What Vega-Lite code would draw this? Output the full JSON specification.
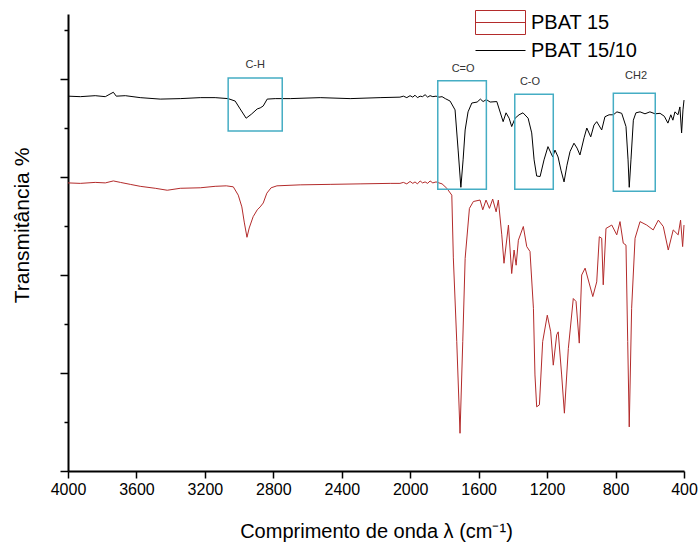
{
  "$schema": "https://vega.github.io/schema/vega-lite/v6.json",
  "autosize": "none",
  "width": 616,
  "height": 457,
  "padding": {"left": 68, "top": 14, "right": 15, "bottom": 71},
  "background": "white",
  "config": {
    "view": {"stroke": null},
    "font": "Liberation Sans",
    "axis": {"grid": false, "domainColor": "black", "domainWidth": 2, "tickColor": "black", "tickWidth": 1.5, "labelColor": "black", "titleColor": "black", "titleFontWeight": "normal", "labelFont": "Liberation Sans", "titleFont": "Liberation Sans"}
  },
  "datasets": {
    "spectra": [
      {"serie": "PBAT 15/10", "wn": 4000, "T": 76.5},
      {"serie": "PBAT 15/10", "wn": 3928, "T": 76.4},
      {"serie": "PBAT 15/10", "wn": 3841, "T": 76.6},
      {"serie": "PBAT 15/10", "wn": 3782, "T": 76.4},
      {"serie": "PBAT 15/10", "wn": 3735, "T": 77.3},
      {"serie": "PBAT 15/10", "wn": 3718, "T": 76.5},
      {"serie": "PBAT 15/10", "wn": 3665, "T": 76.6},
      {"serie": "PBAT 15/10", "wn": 3578, "T": 76.2},
      {"serie": "PBAT 15/10", "wn": 3461, "T": 75.9},
      {"serie": "PBAT 15/10", "wn": 3344, "T": 76.0},
      {"serie": "PBAT 15/10", "wn": 3227, "T": 76.2},
      {"serie": "PBAT 15/10", "wn": 3140, "T": 76.2},
      {"serie": "PBAT 15/10", "wn": 3064, "T": 76.0},
      {"serie": "PBAT 15/10", "wn": 3023, "T": 75.5},
      {"serie": "PBAT 15/10", "wn": 2994, "T": 73.9},
      {"serie": "PBAT 15/10", "wn": 2959, "T": 72.0},
      {"serie": "PBAT 15/10", "wn": 2929, "T": 72.8},
      {"serie": "PBAT 15/10", "wn": 2894, "T": 73.9},
      {"serie": "PBAT 15/10", "wn": 2877, "T": 74.1},
      {"serie": "PBAT 15/10", "wn": 2859, "T": 74.5},
      {"serie": "PBAT 15/10", "wn": 2836, "T": 75.9},
      {"serie": "PBAT 15/10", "wn": 2789, "T": 76.0},
      {"serie": "PBAT 15/10", "wn": 2701, "T": 76.0},
      {"serie": "PBAT 15/10", "wn": 2526, "T": 76.2},
      {"serie": "PBAT 15/10", "wn": 2351, "T": 76.0},
      {"serie": "PBAT 15/10", "wn": 2176, "T": 76.2},
      {"serie": "PBAT 15/10", "wn": 2060, "T": 76.3},
      {"serie": "PBAT 15/10", "wn": 2040, "T": 76.5},
      {"serie": "PBAT 15/10", "wn": 2020, "T": 76.2},
      {"serie": "PBAT 15/10", "wn": 2001, "T": 76.6},
      {"serie": "PBAT 15/10", "wn": 1985, "T": 76.3},
      {"serie": "PBAT 15/10", "wn": 1972, "T": 76.7},
      {"serie": "PBAT 15/10", "wn": 1958, "T": 76.2},
      {"serie": "PBAT 15/10", "wn": 1942, "T": 76.5},
      {"serie": "PBAT 15/10", "wn": 1928, "T": 76.4},
      {"serie": "PBAT 15/10", "wn": 1913, "T": 76.8},
      {"serie": "PBAT 15/10", "wn": 1898, "T": 76.3},
      {"serie": "PBAT 15/10", "wn": 1884, "T": 76.6},
      {"serie": "PBAT 15/10", "wn": 1868, "T": 76.4},
      {"serie": "PBAT 15/10", "wn": 1849, "T": 76.5},
      {"serie": "PBAT 15/10", "wn": 1832, "T": 76.3},
      {"serie": "PBAT 15/10", "wn": 1814, "T": 76.4},
      {"serie": "PBAT 15/10", "wn": 1795, "T": 76.0},
      {"serie": "PBAT 15/10", "wn": 1767, "T": 75.5},
      {"serie": "PBAT 15/10", "wn": 1738, "T": 73.7},
      {"serie": "PBAT 15/10", "wn": 1720, "T": 65.5},
      {"serie": "PBAT 15/10", "wn": 1704, "T": 57.9},
      {"serie": "PBAT 15/10", "wn": 1691, "T": 63.5},
      {"serie": "PBAT 15/10", "wn": 1679, "T": 69.6},
      {"serie": "PBAT 15/10", "wn": 1662, "T": 73.3},
      {"serie": "PBAT 15/10", "wn": 1640, "T": 75.1},
      {"serie": "PBAT 15/10", "wn": 1609, "T": 75.3},
      {"serie": "PBAT 15/10", "wn": 1590, "T": 75.9},
      {"serie": "PBAT 15/10", "wn": 1574, "T": 75.4},
      {"serie": "PBAT 15/10", "wn": 1555, "T": 75.8},
      {"serie": "PBAT 15/10", "wn": 1533, "T": 75.3},
      {"serie": "PBAT 15/10", "wn": 1494, "T": 75.4},
      {"serie": "PBAT 15/10", "wn": 1457, "T": 71.3},
      {"serie": "PBAT 15/10", "wn": 1440, "T": 73.1},
      {"serie": "PBAT 15/10", "wn": 1422, "T": 72.0},
      {"serie": "PBAT 15/10", "wn": 1407, "T": 70.3},
      {"serie": "PBAT 15/10", "wn": 1387, "T": 72.0},
      {"serie": "PBAT 15/10", "wn": 1364, "T": 72.7},
      {"serie": "PBAT 15/10", "wn": 1341, "T": 73.1},
      {"serie": "PBAT 15/10", "wn": 1311, "T": 72.0},
      {"serie": "PBAT 15/10", "wn": 1290, "T": 69.0},
      {"serie": "PBAT 15/10", "wn": 1276, "T": 63.5},
      {"serie": "PBAT 15/10", "wn": 1261, "T": 60.2},
      {"serie": "PBAT 15/10", "wn": 1241, "T": 60.1},
      {"serie": "PBAT 15/10", "wn": 1218, "T": 63.5},
      {"serie": "PBAT 15/10", "wn": 1195, "T": 66.2},
      {"serie": "PBAT 15/10", "wn": 1167, "T": 64.1},
      {"serie": "PBAT 15/10", "wn": 1154, "T": 65.5},
      {"serie": "PBAT 15/10", "wn": 1136, "T": 64.1},
      {"serie": "PBAT 15/10", "wn": 1119, "T": 61.4},
      {"serie": "PBAT 15/10", "wn": 1101, "T": 59.0},
      {"serie": "PBAT 15/10", "wn": 1084, "T": 62.4},
      {"serie": "PBAT 15/10", "wn": 1066, "T": 65.2},
      {"serie": "PBAT 15/10", "wn": 1043, "T": 66.9},
      {"serie": "PBAT 15/10", "wn": 1025, "T": 65.9},
      {"serie": "PBAT 15/10", "wn": 1008, "T": 64.5},
      {"serie": "PBAT 15/10", "wn": 984, "T": 68.0},
      {"serie": "PBAT 15/10", "wn": 968, "T": 70.0},
      {"serie": "PBAT 15/10", "wn": 945, "T": 68.2},
      {"serie": "PBAT 15/10", "wn": 926, "T": 70.6},
      {"serie": "PBAT 15/10", "wn": 910, "T": 71.3},
      {"serie": "PBAT 15/10", "wn": 881, "T": 69.6},
      {"serie": "PBAT 15/10", "wn": 862, "T": 72.3},
      {"serie": "PBAT 15/10", "wn": 838, "T": 72.7},
      {"serie": "PBAT 15/10", "wn": 813, "T": 72.7},
      {"serie": "PBAT 15/10", "wn": 792, "T": 73.3},
      {"serie": "PBAT 15/10", "wn": 764, "T": 73.0},
      {"serie": "PBAT 15/10", "wn": 739, "T": 70.3},
      {"serie": "PBAT 15/10", "wn": 727, "T": 63.5},
      {"serie": "PBAT 15/10", "wn": 720, "T": 57.9},
      {"serie": "PBAT 15/10", "wn": 710, "T": 63.5},
      {"serie": "PBAT 15/10", "wn": 696, "T": 71.6},
      {"serie": "PBAT 15/10", "wn": 681, "T": 73.1},
      {"serie": "PBAT 15/10", "wn": 657, "T": 73.3},
      {"serie": "PBAT 15/10", "wn": 628, "T": 72.9},
      {"serie": "PBAT 15/10", "wn": 599, "T": 73.3},
      {"serie": "PBAT 15/10", "wn": 569, "T": 72.9},
      {"serie": "PBAT 15/10", "wn": 540, "T": 73.0},
      {"serie": "PBAT 15/10", "wn": 515, "T": 72.4},
      {"serie": "PBAT 15/10", "wn": 494, "T": 71.0},
      {"serie": "PBAT 15/10", "wn": 477, "T": 72.7},
      {"serie": "PBAT 15/10", "wn": 465, "T": 71.6},
      {"serie": "PBAT 15/10", "wn": 453, "T": 73.3},
      {"serie": "PBAT 15/10", "wn": 435, "T": 72.7},
      {"serie": "PBAT 15/10", "wn": 424, "T": 74.3},
      {"serie": "PBAT 15/10", "wn": 414, "T": 69.0},
      {"serie": "PBAT 15/10", "wn": 406, "T": 73.7},
      {"serie": "PBAT 15/10", "wn": 400, "T": 75.7},
      {"serie": "PBAT 15", "wn": 4000, "T": 58.8},
      {"serie": "PBAT 15", "wn": 3928, "T": 58.7},
      {"serie": "PBAT 15", "wn": 3841, "T": 58.9},
      {"serie": "PBAT 15", "wn": 3782, "T": 58.8},
      {"serie": "PBAT 15", "wn": 3735, "T": 59.2},
      {"serie": "PBAT 15", "wn": 3694, "T": 58.9},
      {"serie": "PBAT 15", "wn": 3636, "T": 58.5},
      {"serie": "PBAT 15", "wn": 3578, "T": 58.1},
      {"serie": "PBAT 15", "wn": 3490, "T": 57.7},
      {"serie": "PBAT 15", "wn": 3420, "T": 57.3},
      {"serie": "PBAT 15", "wn": 3344, "T": 57.7},
      {"serie": "PBAT 15", "wn": 3227, "T": 57.8},
      {"serie": "PBAT 15", "wn": 3140, "T": 58.1},
      {"serie": "PBAT 15", "wn": 3075, "T": 58.2},
      {"serie": "PBAT 15", "wn": 3034, "T": 58.0},
      {"serie": "PBAT 15", "wn": 3005, "T": 56.3},
      {"serie": "PBAT 15", "wn": 2984, "T": 53.9},
      {"serie": "PBAT 15", "wn": 2970, "T": 50.8},
      {"serie": "PBAT 15", "wn": 2954, "T": 47.7},
      {"serie": "PBAT 15", "wn": 2941, "T": 49.6},
      {"serie": "PBAT 15", "wn": 2918, "T": 51.9},
      {"serie": "PBAT 15", "wn": 2894, "T": 53.3},
      {"serie": "PBAT 15", "wn": 2877, "T": 53.9},
      {"serie": "PBAT 15", "wn": 2859, "T": 54.7},
      {"serie": "PBAT 15", "wn": 2838, "T": 56.7},
      {"serie": "PBAT 15", "wn": 2813, "T": 57.8},
      {"serie": "PBAT 15", "wn": 2779, "T": 58.2},
      {"serie": "PBAT 15", "wn": 2643, "T": 58.4},
      {"serie": "PBAT 15", "wn": 2468, "T": 58.5},
      {"serie": "PBAT 15", "wn": 2293, "T": 58.6},
      {"serie": "PBAT 15", "wn": 2117, "T": 58.7},
      {"serie": "PBAT 15", "wn": 2060, "T": 58.7},
      {"serie": "PBAT 15", "wn": 2040, "T": 58.9},
      {"serie": "PBAT 15", "wn": 2020, "T": 58.6},
      {"serie": "PBAT 15", "wn": 2001, "T": 59.1},
      {"serie": "PBAT 15", "wn": 1985, "T": 58.7},
      {"serie": "PBAT 15", "wn": 1972, "T": 59.0},
      {"serie": "PBAT 15", "wn": 1958, "T": 58.6},
      {"serie": "PBAT 15", "wn": 1942, "T": 59.2},
      {"serie": "PBAT 15", "wn": 1928, "T": 58.8},
      {"serie": "PBAT 15", "wn": 1913, "T": 59.0},
      {"serie": "PBAT 15", "wn": 1898, "T": 58.7},
      {"serie": "PBAT 15", "wn": 1884, "T": 59.2},
      {"serie": "PBAT 15", "wn": 1868, "T": 58.8},
      {"serie": "PBAT 15", "wn": 1849, "T": 59.0},
      {"serie": "PBAT 15", "wn": 1832, "T": 58.8},
      {"serie": "PBAT 15", "wn": 1814, "T": 58.6},
      {"serie": "PBAT 15", "wn": 1786, "T": 57.7},
      {"serie": "PBAT 15", "wn": 1757, "T": 56.3},
      {"serie": "PBAT 15", "wn": 1748, "T": 43.5},
      {"serie": "PBAT 15", "wn": 1728, "T": 26.4},
      {"serie": "PBAT 15", "wn": 1709, "T": 7.7},
      {"serie": "PBAT 15", "wn": 1693, "T": 26.4},
      {"serie": "PBAT 15", "wn": 1679, "T": 43.4},
      {"serie": "PBAT 15", "wn": 1654, "T": 53.6},
      {"serie": "PBAT 15", "wn": 1631, "T": 55.0},
      {"serie": "PBAT 15", "wn": 1592, "T": 55.3},
      {"serie": "PBAT 15", "wn": 1576, "T": 53.3},
      {"serie": "PBAT 15", "wn": 1557, "T": 55.3},
      {"serie": "PBAT 15", "wn": 1537, "T": 53.6},
      {"serie": "PBAT 15", "wn": 1518, "T": 55.5},
      {"serie": "PBAT 15", "wn": 1498, "T": 52.9},
      {"serie": "PBAT 15", "wn": 1485, "T": 55.3},
      {"serie": "PBAT 15", "wn": 1465, "T": 48.2},
      {"serie": "PBAT 15", "wn": 1452, "T": 42.4},
      {"serie": "PBAT 15", "wn": 1426, "T": 50.2},
      {"serie": "PBAT 15", "wn": 1407, "T": 40.3},
      {"serie": "PBAT 15", "wn": 1393, "T": 45.1},
      {"serie": "PBAT 15", "wn": 1381, "T": 42.0},
      {"serie": "PBAT 15", "wn": 1368, "T": 47.1},
      {"serie": "PBAT 15", "wn": 1339, "T": 49.9},
      {"serie": "PBAT 15", "wn": 1319, "T": 45.8},
      {"serie": "PBAT 15", "wn": 1300, "T": 44.8},
      {"serie": "PBAT 15", "wn": 1280, "T": 33.2},
      {"serie": "PBAT 15", "wn": 1271, "T": 19.6},
      {"serie": "PBAT 15", "wn": 1261, "T": 13.1},
      {"serie": "PBAT 15", "wn": 1245, "T": 13.5},
      {"serie": "PBAT 15", "wn": 1226, "T": 26.4},
      {"serie": "PBAT 15", "wn": 1199, "T": 31.8},
      {"serie": "PBAT 15", "wn": 1179, "T": 28.4},
      {"serie": "PBAT 15", "wn": 1164, "T": 21.6},
      {"serie": "PBAT 15", "wn": 1144, "T": 27.8},
      {"serie": "PBAT 15", "wn": 1135, "T": 28.4},
      {"serie": "PBAT 15", "wn": 1115, "T": 19.6},
      {"serie": "PBAT 15", "wn": 1099, "T": 11.8},
      {"serie": "PBAT 15", "wn": 1076, "T": 25.0},
      {"serie": "PBAT 15", "wn": 1047, "T": 35.2},
      {"serie": "PBAT 15", "wn": 1031, "T": 34.6},
      {"serie": "PBAT 15", "wn": 1012, "T": 26.1},
      {"serie": "PBAT 15", "wn": 998, "T": 40.0},
      {"serie": "PBAT 15", "wn": 978, "T": 41.4},
      {"serie": "PBAT 15", "wn": 933, "T": 35.6},
      {"serie": "PBAT 15", "wn": 910, "T": 38.6},
      {"serie": "PBAT 15", "wn": 895, "T": 47.8},
      {"serie": "PBAT 15", "wn": 881, "T": 47.5},
      {"serie": "PBAT 15", "wn": 872, "T": 38.0},
      {"serie": "PBAT 15", "wn": 856, "T": 49.5},
      {"serie": "PBAT 15", "wn": 822, "T": 50.2},
      {"serie": "PBAT 15", "wn": 793, "T": 48.2},
      {"serie": "PBAT 15", "wn": 774, "T": 50.9},
      {"serie": "PBAT 15", "wn": 755, "T": 46.5},
      {"serie": "PBAT 15", "wn": 739, "T": 46.1},
      {"serie": "PBAT 15", "wn": 729, "T": 26.4},
      {"serie": "PBAT 15", "wn": 720, "T": 9.0},
      {"serie": "PBAT 15", "wn": 706, "T": 33.2},
      {"serie": "PBAT 15", "wn": 686, "T": 47.5},
      {"serie": "PBAT 15", "wn": 657, "T": 50.9},
      {"serie": "PBAT 15", "wn": 618, "T": 50.2},
      {"serie": "PBAT 15", "wn": 580, "T": 49.2},
      {"serie": "PBAT 15", "wn": 550, "T": 51.2},
      {"serie": "PBAT 15", "wn": 521, "T": 49.9},
      {"serie": "PBAT 15", "wn": 492, "T": 45.1},
      {"serie": "PBAT 15", "wn": 463, "T": 49.2},
      {"serie": "PBAT 15", "wn": 434, "T": 48.2},
      {"serie": "PBAT 15", "wn": 420, "T": 51.2},
      {"serie": "PBAT 15", "wn": 408, "T": 45.8},
      {"serie": "PBAT 15", "wn": 400, "T": 50.2}
    ],
    "boxes": [
      {"label": "C-H", "x1": 3064, "x2": 2748, "y1": 80.2, "y2": 69.4},
      {"label": "C=O", "x1": 1839, "x2": 1555, "y1": 79.65, "y2": 57.5},
      {"label": "C-O", "x1": 1389, "x2": 1164, "y1": 76.9, "y2": 57.5},
      {"label": "CH2", "x1": 813, "x2": 568, "y1": 77.1, "y2": 57.1}
    ],
    "labels": [
      {"label": "C-H", "wn": 2906, "T": 82.9},
      {"label": "C=O", "wn": 1691, "T": 82.0},
      {"label": "C-O", "wn": 1300, "T": 79.4},
      {"label": "CH2", "wn": 680, "T": 80.6}
    ]
  },
  "layer": [
    {
      "data": {"name": "spectra"},
      "mark": {"type": "line", "strokeWidth": 1},
      "encoding": {
        "x": {
          "field": "wn", "type": "quantitative",
          "scale": {"domain": [400, 4000], "reverse": true, "nice": false, "zero": false},
          "axis": {
            "title": "Comprimento de onda λ (cm⁻¹)",
            "values": [4000, 3800, 3600, 3400, 3200, 3000, 2800, 2600, 2400, 2200, 2000, 1800, 1600, 1400, 1200, 1000, 800, 600, 400],
            "labelExpr": "datum.value % 400 == 0 ? format(datum.value, 'd') : ''",
            "tickSize": {"condition": {"test": "datum.value % 400 == 0", "value": 7}, "value": 4},
            "labelFontSize": 16,
            "labelPadding": 3,
            "labelFlush": false,
            "labelOverlap": false,
            "titleFontSize": 20,
            "titleBaseline": "alphabetic",
            "titleY": 66
          }
        },
        "y": {
          "field": "T", "type": "quantitative",
          "scale": {"domain": [0, 93.27], "nice": false, "zero": false},
          "axis": {
            "title": "Transmitância %",
            "values": [0, 10, 20, 30, 40, 50, 60, 70, 80, 90],
            "labels": false,
            "tickSize": {"condition": {"test": "datum.value % 20 == 0", "value": 8}, "value": 4},
            "titleFontSize": 21,
            "titleBaseline": "middle",
            "titleX": -46,
            "titleY": 211
          }
        },
        "color": {
          "field": "serie", "type": "nominal",
          "scale": {"domain": ["PBAT 15", "PBAT 15/10"], "range": ["#b32b2b", "#000000"]},
          "legend": {
            "orient": "none",
            "legendX": 407,
            "legendY": -5,
            "title": null,
            "padding": 0,
            "symbolSize": 2500,
            "symbolStrokeWidth": 1,
            "clipHeight": 27,
            "rowPadding": 1,
            "labelFontSize": 20,
            "labelFont": "Liberation Sans",
            "labelColor": "black",
            "labelOffset": 5,
            "encode": {
              "symbols": {
                "update": {
                  "shape": {"signal": "datum.value === 'PBAT 15' ? 'M-1,-0.48H1V0.48H-1Z M-1,0H1' : 'M-1,0H1'"},
                  "stroke": {"signal": "datum.value === 'PBAT 15' ? '#b85a5a' : '#000000'"},
                  "fill": {"value": "transparent"}
                }
              }
            }
          }
        }
      }
    },
    {
      "data": {"name": "boxes"},
      "mark": {"type": "rect", "fill": null, "fillOpacity": 0, "stroke": "#45adc4", "strokeWidth": 1.5},
      "encoding": {
        "x": {"field": "x1", "type": "quantitative"},
        "x2": {"field": "x2"},
        "y": {"field": "y1", "type": "quantitative"},
        "y2": {"field": "y2"}
      }
    },
    {
      "data": {"name": "labels"},
      "mark": {"type": "text", "fontSize": 11, "font": "Liberation Sans", "color": "#333333"},
      "encoding": {
        "x": {"field": "wn", "type": "quantitative"},
        "y": {"field": "T", "type": "quantitative"},
        "text": {"field": "label"}
      }
    }
  ]
}
